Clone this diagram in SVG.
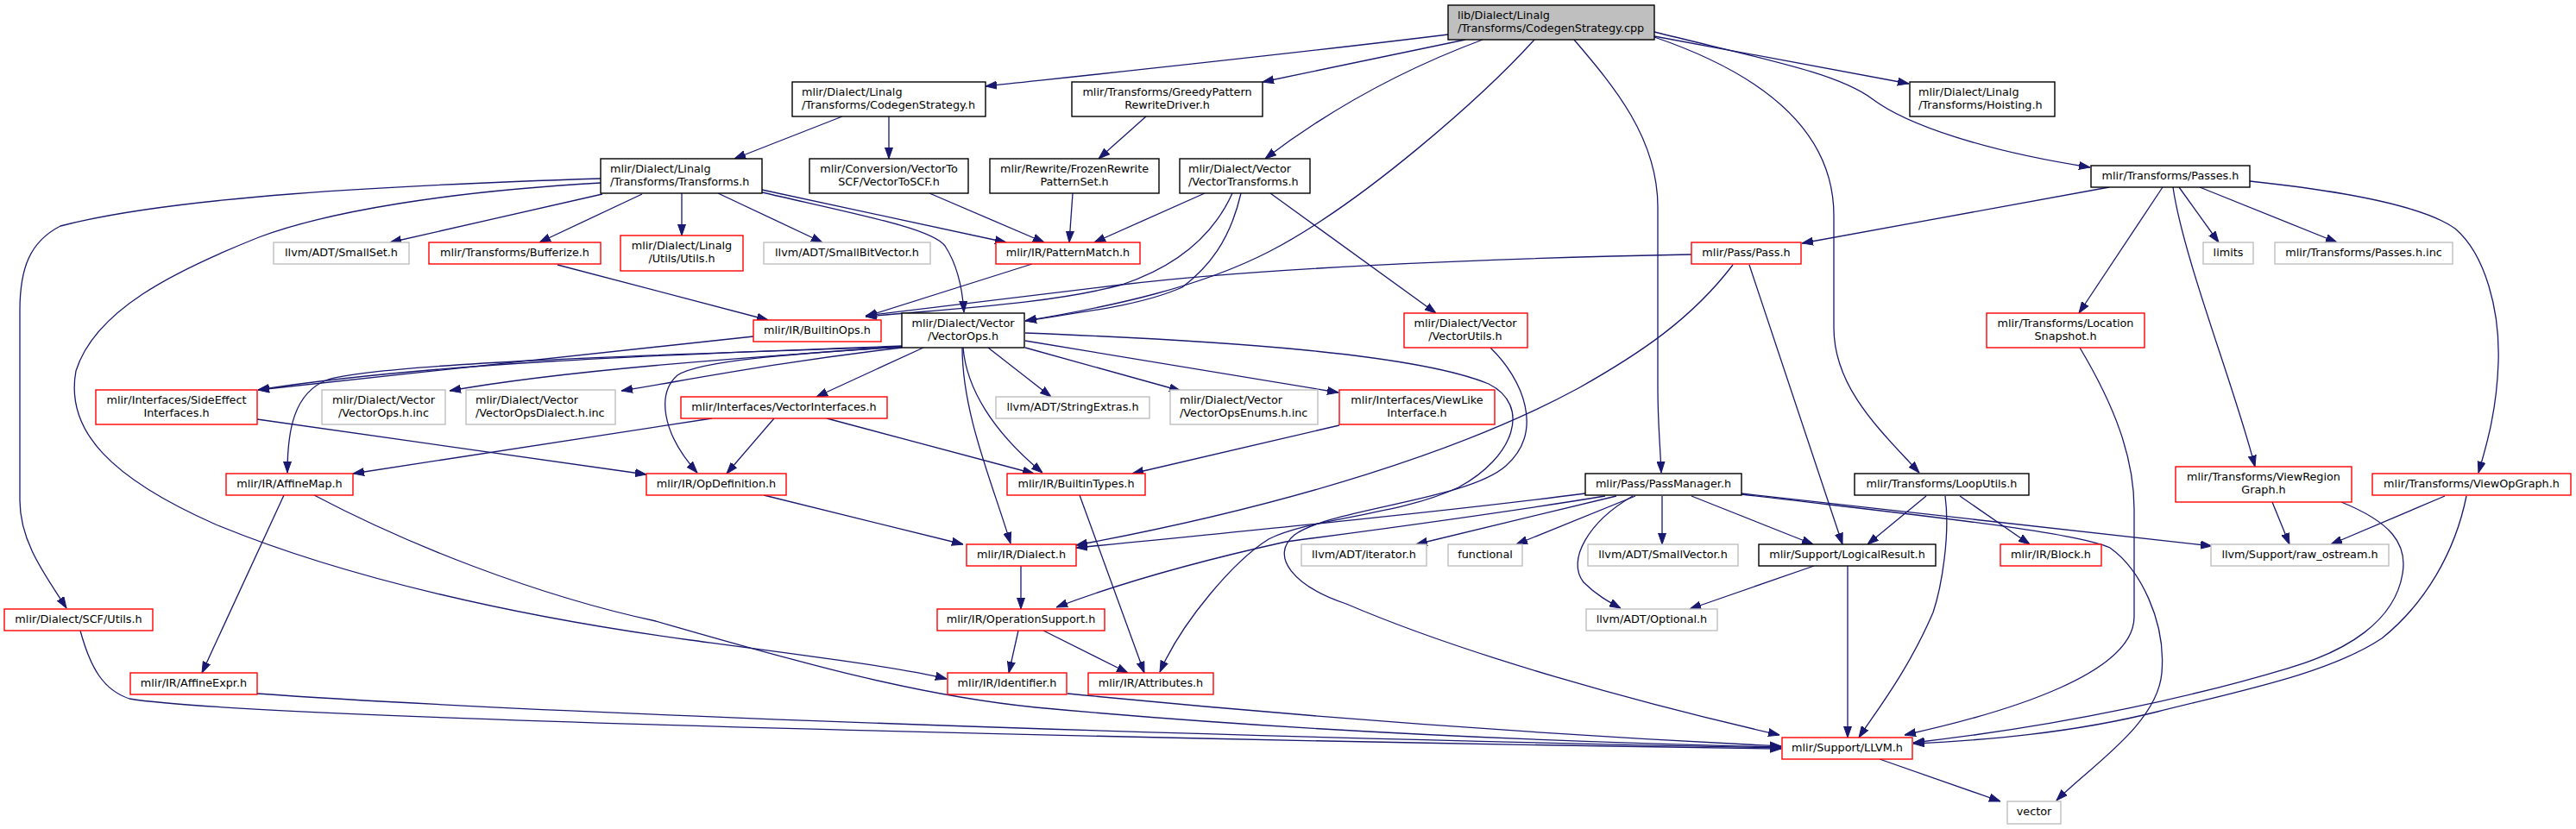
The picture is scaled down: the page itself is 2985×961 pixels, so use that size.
<svg xmlns="http://www.w3.org/2000/svg" width="2985" height="961" viewBox="0 0 2985 961">
<style>
.n rect{fill:#fff;stroke-width:1.4}
.k rect{stroke:#000}
.r rect{stroke:#ff0000}
.g rect{stroke:#bfbfbf}
.root rect{fill:#bfbfbf;stroke:#000}
text{font-family:"DejaVu Sans","Liberation Sans",sans-serif;font-size:12.8px;fill:#000}
.c{text-anchor:middle}
#edges path{fill:none;stroke:#191970;stroke-width:1.3;marker-end:url(#a)}
</style>
<defs>
<marker id="a" markerWidth="13" markerHeight="10" refX="13" refY="5" orient="auto" markerUnits="userSpaceOnUse"><path d="M0,0.5 L13,5 L0,9.5 z" fill="#191970" stroke="#191970" stroke-width="1"/></marker>
</defs>
<rect width="2985" height="961" fill="#fff"/>
<g id="edges">
<path d="M1678,40 C1500,62 1300,83 1142,100"/>
<path d="M1698,46 L1463,95"/>
<path d="M1718,46 C1640,75 1550,120 1466,184"/>
<path d="M1778,46 C1720,110 1580,235 1470,292 C1390,333 1290,355 1188,372"/>
<path d="M1824,46 C1870,100 1921,160 1921,240 L1921,450 C1921,490 1924,520 1925,548"/>
<path d="M1917,37 C2050,70 2130,85 2170,115 C2210,145 2300,175 2422,194"/>
<path d="M1917,42 L2212,97"/>
<path d="M1917,43 C2040,85 2125,150 2125,250 L2125,380 C2125,450 2180,500 2224,548"/>
<path d="M976,135 L851,184"/>
<path d="M1030,135 L1030,184"/>
<path d="M1328,135 L1273,184"/>
<path d="M698,225 L452,281"/>
<path d="M744,225 L625,281"/>
<path d="M790,224 L790,273"/>
<path d="M832,224 L953,281"/>
<path d="M883,220 L1166,281"/>
<path d="M883,223 C1000,250 1080,265 1095,285 C1108,305 1115,330 1117,362"/>
<path d="M696,207 C450,215 200,228 70,262 C35,280 23,310 23,360 L23,580 C23,630 55,670 77,705"/>
<path d="M696,212 C520,222 380,245 300,275 C200,315 110,360 88,430 C75,500 130,555 250,608 C400,670 600,715 800,742 C950,762 1050,775 1097,787"/>
<path d="M1077,224 L1210,281"/>
<path d="M1243,224 L1239,281"/>
<path d="M1396,224 L1268,281"/>
<path d="M1428,224 C1405,275 1360,310 1300,330 C1220,352 1100,358 1003,367"/>
<path d="M1438,224 C1425,280 1400,310 1370,333 C1320,355 1250,362 1188,372"/>
<path d="M1472,224 L1664,363"/>
<path d="M646,307 L890,371"/>
<path d="M1196,306 L1003,367"/>
<path d="M1960,295 C1700,300 1450,312 1300,330 C1180,345 1080,356 1003,366"/>
<path d="M2008,307 C1960,370 1900,410 1829,450 C1700,520 1500,585 1247,632"/>
<path d="M2027,307 L2135,631"/>
<path d="M2444,217 L2088,282"/>
<path d="M2506,217 L2409,363"/>
<path d="M2518,217 C2530,300 2590,450 2613,541"/>
<path d="M2525,217 L2571,281"/>
<path d="M2549,217 L2708,281"/>
<path d="M2607,210 C2720,222 2810,240 2845,265 C2880,295 2897,360 2895,420 C2893,480 2880,520 2872,548"/>
<path d="M873,390 L299,452"/>
<path d="M1045,401 C800,410 500,420 299,452"/>
<path d="M1045,402 C800,410 450,420 380,440 C340,455 333,500 333,548"/>
<path d="M1045,402 C850,415 650,430 521,453"/>
<path d="M1045,403 C900,420 800,440 720,453"/>
<path d="M1045,402 C920,410 810,418 785,435 C762,455 765,500 808,548"/>
<path d="M1070,403 L946,460"/>
<path d="M1145,403 L1218,460"/>
<path d="M1188,403 L1368,453"/>
<path d="M1188,395 L1551,455"/>
<path d="M1188,386 C1420,395 1640,410 1725,445 C1775,470 1755,530 1690,565 C1620,598 1520,600 1470,625 C1430,650 1370,720 1344,779"/>
<path d="M1116,403 C1120,450 1150,500 1208,548"/>
<path d="M1115,403 C1115,480 1150,560 1171,630"/>
<path d="M1727,403 C1765,440 1790,500 1745,540 C1700,580 1540,590 1500,620 C1470,645 1500,680 1560,700 C1700,760 1900,815 2062,852"/>
<path d="M2410,403 C2450,470 2473,530 2473,590 L2473,715 C2473,780 2330,825 2207,852"/>
<path d="M298,486 L749,550"/>
<path d="M825,485 L409,549"/>
<path d="M897,485 L842,549"/>
<path d="M958,485 L1198,549"/>
<path d="M1552,493 L1312,549"/>
<path d="M329,574 L234,780"/>
<path d="M364,574 C470,630 620,690 760,720 C900,760 1050,805 1200,820 C1500,848 1800,860 2064,866"/>
<path d="M885,574 L1116,631"/>
<path d="M1251,574 L1326,780"/>
<path d="M1837,572 C1700,590 1500,610 1247,635"/>
<path d="M1860,575 C1720,598 1580,616 1490,628 C1400,648 1300,675 1224,704"/>
<path d="M1873,575 L1641,631"/>
<path d="M1895,575 L1757,631"/>
<path d="M1926,575 L1926,631"/>
<path d="M1892,575 C1840,605 1815,650 1835,675 C1850,690 1865,698 1878,705"/>
<path d="M1960,575 L2101,631"/>
<path d="M2018,572 L2563,633"/>
<path d="M2018,573 C2200,595 2400,615 2445,635 C2480,660 2510,720 2505,780 C2500,840 2420,890 2383,928"/>
<path d="M2271,575 L2352,631"/>
<path d="M2232,575 L2164,631"/>
<path d="M2254,575 C2260,620 2250,680 2240,710 C2210,780 2170,830 2154,855"/>
<path d="M2633,582 L2653,631"/>
<path d="M2713,582 C2770,605 2790,630 2784,665 C2775,720 2720,755 2650,775 C2550,805 2400,840 2217,861"/>
<path d="M2833,575 L2701,631"/>
<path d="M2858,575 C2845,640 2810,700 2760,740 C2700,780 2600,800 2500,825 C2400,850 2300,858 2217,862"/>
<path d="M1183,656 L1183,706"/>
<path d="M1180,731 L1169,780"/>
<path d="M1209,731 L1307,780"/>
<path d="M1237,804 C1500,830 1800,852 2064,865"/>
<path d="M298,804 C550,822 1200,850 2064,867"/>
<path d="M93,731 C105,775 120,800 150,810 C300,835 1500,860 2064,868"/>
<path d="M2141,656 L2141,855"/>
<path d="M2102,656 L1958,706"/>
<path d="M2178,880 L2318,929"/>
</g>
<g id="n0" class="n root"><rect x="1678" y="6" width="239" height="40"/><text x="1689" y="21.5">lib/Dialect/Linalg</text><text x="1689" y="36.5">/Transforms/CodegenStrategy.cpp</text></g>
<g id="n1" class="n k"><rect x="918" y="95" width="224" height="40"/><text x="929" y="110.5">mlir/Dialect/Linalg</text><text x="929" y="125.5">/Transforms/CodegenStrategy.h</text></g>
<g id="n2" class="n k"><rect x="1242" y="95" width="221" height="40"/><text class="c" x="1352.5" y="110.5">mlir/Transforms/GreedyPattern</text><text class="c" x="1352.5" y="125.5">RewriteDriver.h</text></g>
<g id="n3" class="n k"><rect x="2213" y="95" width="168" height="40"/><text x="2223" y="110.5">mlir/Dialect/Linalg</text><text x="2223" y="125.5">/Transforms/Hoisting.h</text></g>
<g id="n4" class="n k"><rect x="2423" y="192" width="184" height="25"/><text class="c" x="2515" y="207.5">mlir/Transforms/Passes.h</text></g>
<g id="n5" class="n k"><rect x="696" y="184" width="187" height="40"/><text x="707" y="199.5">mlir/Dialect/Linalg</text><text x="707" y="214.5">/Transforms/Transforms.h</text></g>
<g id="n6" class="n k"><rect x="938" y="184" width="184" height="40"/><text class="c" x="1030" y="199.5">mlir/Conversion/VectorTo</text><text class="c" x="1030" y="214.5">SCF/VectorToSCF.h</text></g>
<g id="n7" class="n k"><rect x="1147" y="184" width="196" height="40"/><text class="c" x="1245" y="199.5">mlir/Rewrite/FrozenRewrite</text><text class="c" x="1245" y="214.5">PatternSet.h</text></g>
<g id="n8" class="n k"><rect x="1367" y="184" width="151" height="40"/><text x="1377" y="199.5">mlir/Dialect/Vector</text><text x="1377" y="214.5">/VectorTransforms.h</text></g>
<g id="n9" class="n g"><rect x="317" y="281" width="157" height="25"/><text class="c" x="395.5" y="296.5">llvm/ADT/SmallSet.h</text></g>
<g id="n10" class="n r"><rect x="497" y="281" width="199" height="25"/><text class="c" x="596.5" y="296.5">mlir/Transforms/Bufferize.h</text></g>
<g id="n11" class="n r"><rect x="719" y="273" width="142" height="41"/><text class="c" x="790" y="288.5">mlir/Dialect/Linalg</text><text class="c" x="790" y="303.5">/Utils/Utils.h</text></g>
<g id="n12" class="n g"><rect x="885" y="281" width="193" height="25"/><text class="c" x="981.5" y="296.5">llvm/ADT/SmallBitVector.h</text></g>
<g id="n13" class="n r"><rect x="1154" y="281" width="167" height="25"/><text class="c" x="1237.5" y="296.5">mlir/IR/PatternMatch.h</text></g>
<g id="n14" class="n r"><rect x="1960" y="281" width="127" height="25"/><text class="c" x="2023.5" y="296.5">mlir/Pass/Pass.h</text></g>
<g id="n15" class="n g"><rect x="2553" y="281" width="58" height="25"/><text class="c" x="2582" y="296.5">limits</text></g>
<g id="n16" class="n g"><rect x="2636" y="281" width="206" height="25"/><text class="c" x="2739" y="296.5">mlir/Transforms/Passes.h.inc</text></g>
<g id="n17" class="n r"><rect x="873" y="371" width="148" height="25"/><text class="c" x="947" y="386.5">mlir/IR/BuiltinOps.h</text></g>
<g id="n18" class="n k"><rect x="1045" y="363" width="142" height="40"/><text class="c" x="1116" y="378.5">mlir/Dialect/Vector</text><text class="c" x="1116" y="393.5">/VectorOps.h</text></g>
<g id="n19" class="n r"><rect x="1627" y="363" width="143" height="40"/><text class="c" x="1698" y="378.5">mlir/Dialect/Vector</text><text class="c" x="1698" y="393.5">/VectorUtils.h</text></g>
<g id="n20" class="n r"><rect x="2302" y="363" width="183" height="40"/><text class="c" x="2393.5" y="378.5">mlir/Transforms/Location</text><text class="c" x="2393.5" y="393.5">Snapshot.h</text></g>
<g id="n21" class="n r"><rect x="111" y="452" width="187" height="40"/><text class="c" x="204.5" y="467.5">mlir/Interfaces/SideEffect</text><text class="c" x="204.5" y="482.5">Interfaces.h</text></g>
<g id="n22" class="n g"><rect x="373" y="452" width="143" height="40"/><text class="c" x="444.5" y="467.5">mlir/Dialect/Vector</text><text class="c" x="444.5" y="482.5">/VectorOps.h.inc</text></g>
<g id="n23" class="n g"><rect x="540" y="452" width="173" height="40"/><text x="551" y="467.5">mlir/Dialect/Vector</text><text x="551" y="482.5">/VectorOpsDialect.h.inc</text></g>
<g id="n24" class="n r"><rect x="789" y="460" width="239" height="25"/><text class="c" x="908.5" y="475.5">mlir/Interfaces/VectorInterfaces.h</text></g>
<g id="n25" class="n g"><rect x="1154" y="460" width="178" height="25"/><text class="c" x="1243" y="475.5">llvm/ADT/StringExtras.h</text></g>
<g id="n26" class="n g"><rect x="1356" y="452" width="171" height="40"/><text x="1367" y="467.5">mlir/Dialect/Vector</text><text x="1367" y="482.5">/VectorOpsEnums.h.inc</text></g>
<g id="n27" class="n r"><rect x="1552" y="452" width="180" height="40"/><text class="c" x="1642" y="467.5">mlir/Interfaces/ViewLike</text><text class="c" x="1642" y="482.5">Interface.h</text></g>
<g id="n28" class="n r"><rect x="262" y="549" width="147" height="25"/><text class="c" x="335.5" y="564.5">mlir/IR/AffineMap.h</text></g>
<g id="n29" class="n r"><rect x="749" y="549" width="162" height="25"/><text class="c" x="830" y="564.5">mlir/IR/OpDefinition.h</text></g>
<g id="n30" class="n r"><rect x="1167" y="549" width="160" height="25"/><text class="c" x="1247" y="564.5">mlir/IR/BuiltinTypes.h</text></g>
<g id="n31" class="n k"><rect x="1837" y="549" width="181" height="25"/><text class="c" x="1927.5" y="564.5">mlir/Pass/PassManager.h</text></g>
<g id="n32" class="n k"><rect x="2149" y="549" width="202" height="25"/><text class="c" x="2250" y="564.5">mlir/Transforms/LoopUtils.h</text></g>
<g id="n33" class="n r"><rect x="2521" y="541" width="204" height="41"/><text class="c" x="2623" y="556.5">mlir/Transforms/ViewRegion</text><text class="c" x="2623" y="571.5">Graph.h</text></g>
<g id="n34" class="n r"><rect x="2749" y="549" width="230" height="25"/><text class="c" x="2864" y="564.5">mlir/Transforms/ViewOpGraph.h</text></g>
<g id="n35" class="n r"><rect x="1120" y="631" width="127" height="25"/><text class="c" x="1183.5" y="646.5">mlir/IR/Dialect.h</text></g>
<g id="n36" class="n g"><rect x="1508" y="631" width="145" height="25"/><text class="c" x="1580.5" y="646.5">llvm/ADT/iterator.h</text></g>
<g id="n37" class="n g"><rect x="1678" y="631" width="86" height="25"/><text class="c" x="1721" y="646.5">functional</text></g>
<g id="n38" class="n g"><rect x="1840" y="631" width="174" height="25"/><text class="c" x="1927" y="646.5">llvm/ADT/SmallVector.h</text></g>
<g id="n39" class="n k"><rect x="2038" y="631" width="205" height="25"/><text class="c" x="2140.5" y="646.5">mlir/Support/LogicalResult.h</text></g>
<g id="n40" class="n r"><rect x="2318" y="631" width="117" height="25"/><text class="c" x="2376.5" y="646.5">mlir/IR/Block.h</text></g>
<g id="n41" class="n g"><rect x="2562" y="631" width="206" height="25"/><text class="c" x="2665" y="646.5">llvm/Support/raw_ostream.h</text></g>
<g id="n42" class="n r"><rect x="5" y="706" width="172" height="25"/><text class="c" x="91" y="721.5">mlir/Dialect/SCF/Utils.h</text></g>
<g id="n43" class="n r"><rect x="1086" y="706" width="194" height="25"/><text class="c" x="1183" y="721.5">mlir/IR/OperationSupport.h</text></g>
<g id="n44" class="n g"><rect x="1838" y="706" width="152" height="25"/><text class="c" x="1914" y="721.5">llvm/ADT/Optional.h</text></g>
<g id="n45" class="n r"><rect x="151" y="780" width="147" height="25"/><text class="c" x="224.5" y="795.5">mlir/IR/AffineExpr.h</text></g>
<g id="n46" class="n r"><rect x="1098" y="780" width="138" height="25"/><text class="c" x="1167" y="795.5">mlir/IR/Identifier.h</text></g>
<g id="n47" class="n r"><rect x="1261" y="780" width="145" height="25"/><text class="c" x="1333.5" y="795.5">mlir/IR/Attributes.h</text></g>
<g id="n48" class="n r"><rect x="2065" y="855" width="151" height="25"/><text class="c" x="2140.5" y="870.5">mlir/Support/LLVM.h</text></g>
<g id="n49" class="n g"><rect x="2326" y="929" width="62" height="26"/><text class="c" x="2357" y="944.5">vector</text></g>
</svg>
